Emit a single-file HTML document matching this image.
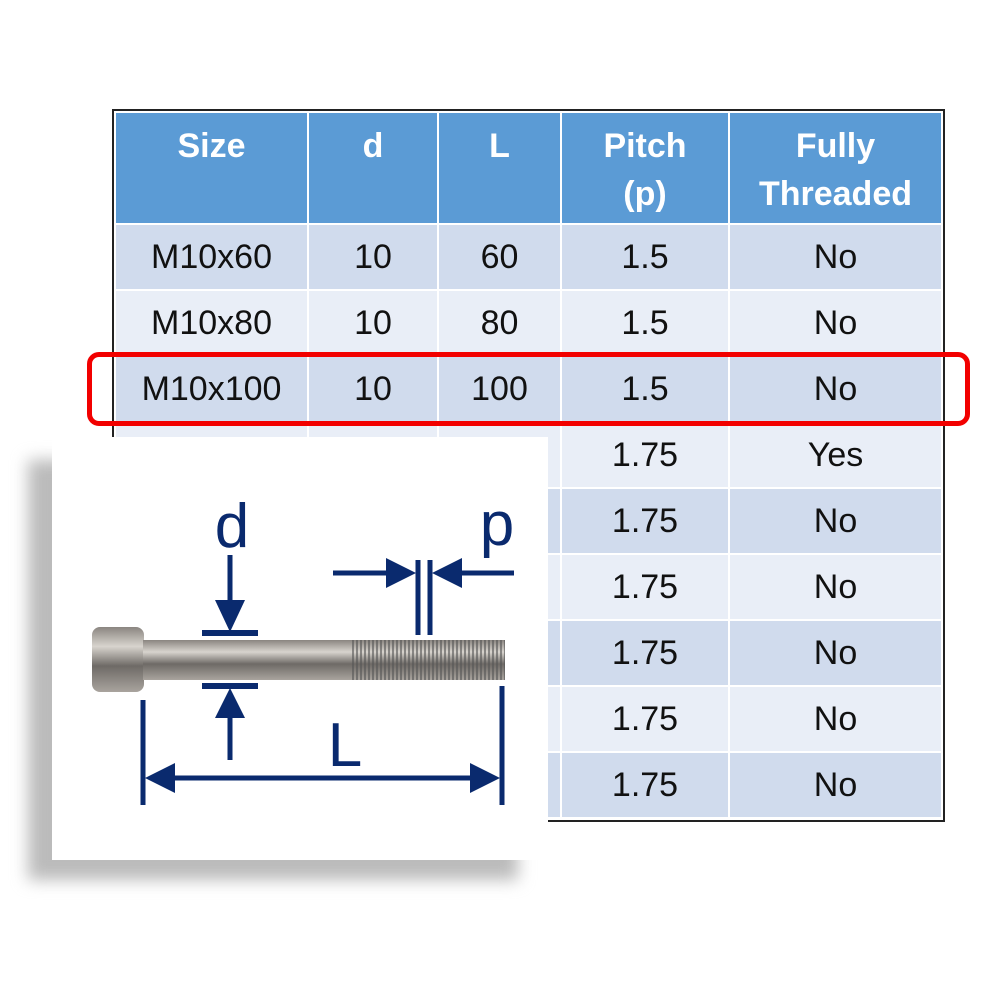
<!DOCTYPE html>
<html><head><style>
body{margin:0;width:1000px;height:1000px;background:#fff;position:relative;overflow:hidden;font-family:"Liberation Sans",sans-serif}
table{position:absolute;left:114px;top:111px;border-collapse:collapse;table-layout:fixed;width:829px}
td,th{border:2px solid #fff;text-align:center;padding:0;font-size:34px;color:#111}
th{background:#5b9bd5;color:#fff;font-weight:bold;height:112px;vertical-align:top;line-height:48px;padding-top:9px;box-sizing:border-box}
tr.h td{height:64px}
tr.a td{background:#d0dbed}
tr.b td{background:#e9eef7}
#frame{position:absolute;left:112px;top:109px;width:829px;height:709px;border:2px solid #222}
#red{position:absolute;left:87px;top:352px;width:873px;height:64px;border:5px solid #f20000;border-radius:12px}
#shadow{position:absolute;left:28px;top:460px;width:490px;height:420px;background:#bbb;filter:blur(8px)}
#panel{position:absolute;left:52px;top:437px;width:496px;height:423px;background:#fff}
</style></head><body>
<div id="frame"></div>
<table>
<tr><th style="width:193px">Size</th><th style="width:130px">d</th><th style="width:123px">L</th><th style="width:168px">Pitch<br>(p)</th><th>Fully<br>Threaded</th></tr>
<tr class="a h"><td>M10x60</td><td>10</td><td>60</td><td>1.5</td><td>No</td></tr>
<tr class="b h"><td>M10x80</td><td>10</td><td>80</td><td>1.5</td><td>No</td></tr>
<tr class="a h"><td>M10x100</td><td>10</td><td>100</td><td>1.5</td><td>No</td></tr>
<tr class="b h"><td></td><td></td><td></td><td>1.75</td><td>Yes</td></tr>
<tr class="a h"><td></td><td></td><td></td><td>1.75</td><td>No</td></tr>
<tr class="b h"><td></td><td></td><td></td><td>1.75</td><td>No</td></tr>
<tr class="a h"><td></td><td></td><td></td><td>1.75</td><td>No</td></tr>
<tr class="b h"><td></td><td></td><td></td><td>1.75</td><td>No</td></tr>
<tr class="a h"><td></td><td></td><td></td><td>1.75</td><td>No</td></tr>
</table>
<div id="red"></div>
<div id="shadow"></div>
<div id="panel"></div>
<svg width="1000" height="1000" style="position:absolute;left:0;top:0">
<defs>
<linearGradient id="m" x1="0" y1="0" x2="0" y2="1">
<stop offset="0" stop-color="#8a8580"/><stop offset="0.3" stop-color="#d8d4ce"/><stop offset="0.6" stop-color="#6e6a66"/><stop offset="1" stop-color="#a9a49e"/></linearGradient>
<pattern id="th" width="4" height="40" patternUnits="userSpaceOnUse"><rect width="4" height="40" fill="url(#m)"/><line x1="1" y1="0" x2="1" y2="40" stroke="#555" stroke-width="1.2"/></pattern>
</defs>
<rect x="92" y="627" width="52" height="65" rx="8" fill="url(#m)"/>
<rect x="143" y="640" width="208" height="40" fill="url(#m)"/>
<rect x="350" y="640" width="155" height="40" fill="url(#th)"/>
<g stroke="#0a2a6e" stroke-width="5" fill="#0a2a6e">
<line x1="230" y1="555" x2="230" y2="610"/><polygon points="215,600 245,600 230,632" stroke="none"/>
<line x1="202" y1="633" x2="258" y2="633" stroke-width="6"/>
<line x1="202" y1="686" x2="258" y2="686" stroke-width="6"/>
<polygon points="215,718 245,718 230,688" stroke="none"/><line x1="230" y1="715" x2="230" y2="760"/>
<line x1="143" y1="700" x2="143" y2="805"/><line x1="502" y1="686" x2="502" y2="805"/>
<line x1="170" y1="778" x2="475" y2="778"/>
<polygon points="145,778 175,763 175,793" stroke="none"/><polygon points="500,778 470,763 470,793" stroke="none"/>
<line x1="418" y1="560" x2="418" y2="635"/><line x1="430" y1="560" x2="430" y2="635"/>
<line x1="333" y1="573" x2="395" y2="573"/><polygon points="416,573 386,558 386,588" stroke="none"/>
<line x1="455" y1="573" x2="514" y2="573"/><polygon points="432,573 462,558 462,588" stroke="none"/>
</g>
<g fill="#0a2a6e" font-family="Liberation Sans,sans-serif" font-size="62" text-anchor="middle">
<text x="232" y="547">d</text><text x="497" y="545">p</text><text x="345" y="766">L</text>
</g>
</svg>
</body></html>
